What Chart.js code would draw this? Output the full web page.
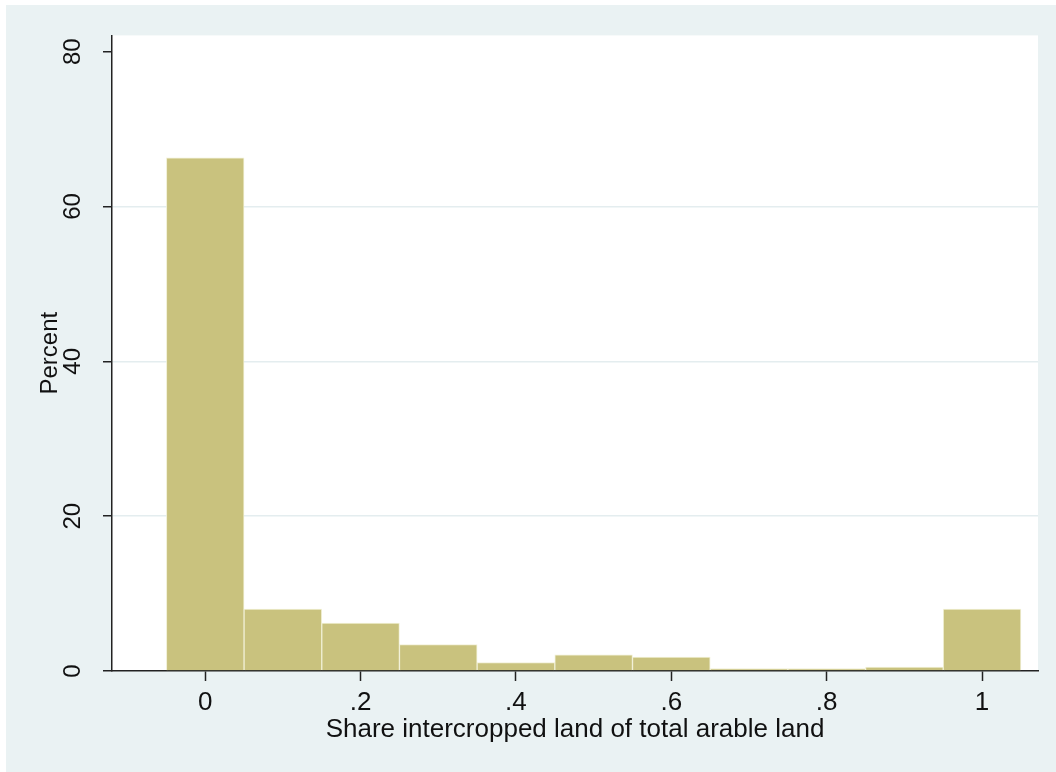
<!DOCTYPE html>
<html>
<head>
<meta charset="utf-8">
<script src="https://cdn.jsdelivr.net/npm/chart.js@4.4.1/dist/chart.umd.min.js"></script>
<style>
  html, body { margin: 0; padding: 0; background: #ffffff; }
  #wrap { position: absolute; left: 6px; top: 5px; width: 1050px; height: 767px; }
</style>
</head>
<body>
<div id="wrap"><canvas id="hist"></canvas></div>
<script>
// histogram bins (bin midpoints, width .1) and percent per bin
const binMids = [0, 0.1, 0.2, 0.3, 0.4, 0.5, 0.6, 0.7, 0.8, 0.9, 1.0];
const percents = [66.3, 8.0, 6.2, 3.4, 1.1, 2.1, 1.8, 0.3, 0.3, 0.5, 8.0];
const xTicks = [0, 0.2, 0.4, 0.6, 0.8, 1];
const yTicks = [0, 20, 40, 60, 80];
const xLabels = ['0', '.2', '.4', '.6', '.8', '1'];

const bgColor = '#eaf2f3';
const fontFam = "'Liberation Sans', Arial, sans-serif";

// outer background + white plot region
const backdrop = {
  id: 'backdrop',
  beforeDraw(chart) {
    const { ctx, chartArea: a } = chart;
    ctx.save();
    ctx.fillStyle = bgColor;
    ctx.fillRect(0, 0, chart.width, chart.height);
    ctx.fillStyle = '#ffffff';
    ctx.fillRect(a.left, a.top, a.right - a.left, a.bottom - a.top);
    ctx.restore();
  }
};

new Chart(document.getElementById('hist'), {
  type: 'bar',
  data: {
    datasets: [{
      data: binMids.map((x, i) => ({ x: x, y: percents[i] })),
      backgroundColor: '#c9c27e',
      borderColor: 'rgba(240,238,210,0.9)',
      borderWidth: 1,
      barPercentage: 1,
      categoryPercentage: 1
    }]
  },
  options: {
    responsive: true,
    maintainAspectRatio: false,
    animation: false,
    layout: { padding: { top: 28, right: 18, left: 0, bottom: 0 } },
    plugins: { legend: { display: false }, tooltip: { enabled: false } },
    scales: {
      x: {
        type: 'linear',
        min: -0.12,
        max: 1.072,
        offset: false,
        afterBuildTicks: s => { s.ticks = xTicks.map(v => ({ value: v })); },
        afterFit: s => { s.height = 101; },
        grid: { offset: false, drawOnChartArea: false, drawTicks: true, tickLength: 10, tickColor: '#222', tickWidth: 1.5 },
        border: { display: true, color: '#222', width: 1.5 },
        ticks: {
          padding: 6,
          color: '#111',
          font: { family: fontFam, size: 26 },
          callback: v => xLabels[xTicks.indexOf(v)] ?? ''
        },
        title: {
          display: true,
          text: 'Share intercropped land of total arable land',
          color: '#111',
          font: { family: fontFam, size: 26, lineHeight: 1 },
          padding: { top: 0, bottom: 29 }
        }
      },
      y: {
        min: 0,
        max: 82.1,
        afterBuildTicks: s => { s.ticks = yTicks.map(v => ({ value: v })); },
        afterFit: s => { s.width = 106; },
        grid: {
          color: c => (c.tick && c.tick.value > 0 && c.tick.value < 80) ? '#e4edef' : 'rgba(0,0,0,0)',
          lineWidth: 1.5,
          tickColor: '#222',
          tickWidth: 1.5,
          tickLength: 9
        },
        border: { display: true, color: '#222', width: 1.5 },
        ticks: {
          minRotation: 90,
          maxRotation: 90,
          crossAlign: 'center',
          padding: 16,
          color: '#111',
          font: { family: fontFam, size: 24 }
        },
        title: {
          display: true,
          text: 'Percent',
          color: '#111',
          font: { family: fontFam, size: 24, lineHeight: 1 },
          padding: { top: 32, bottom: 0 }
        }
      }
    }
  },
  plugins: [backdrop]
});
</script>
</body>
</html>
